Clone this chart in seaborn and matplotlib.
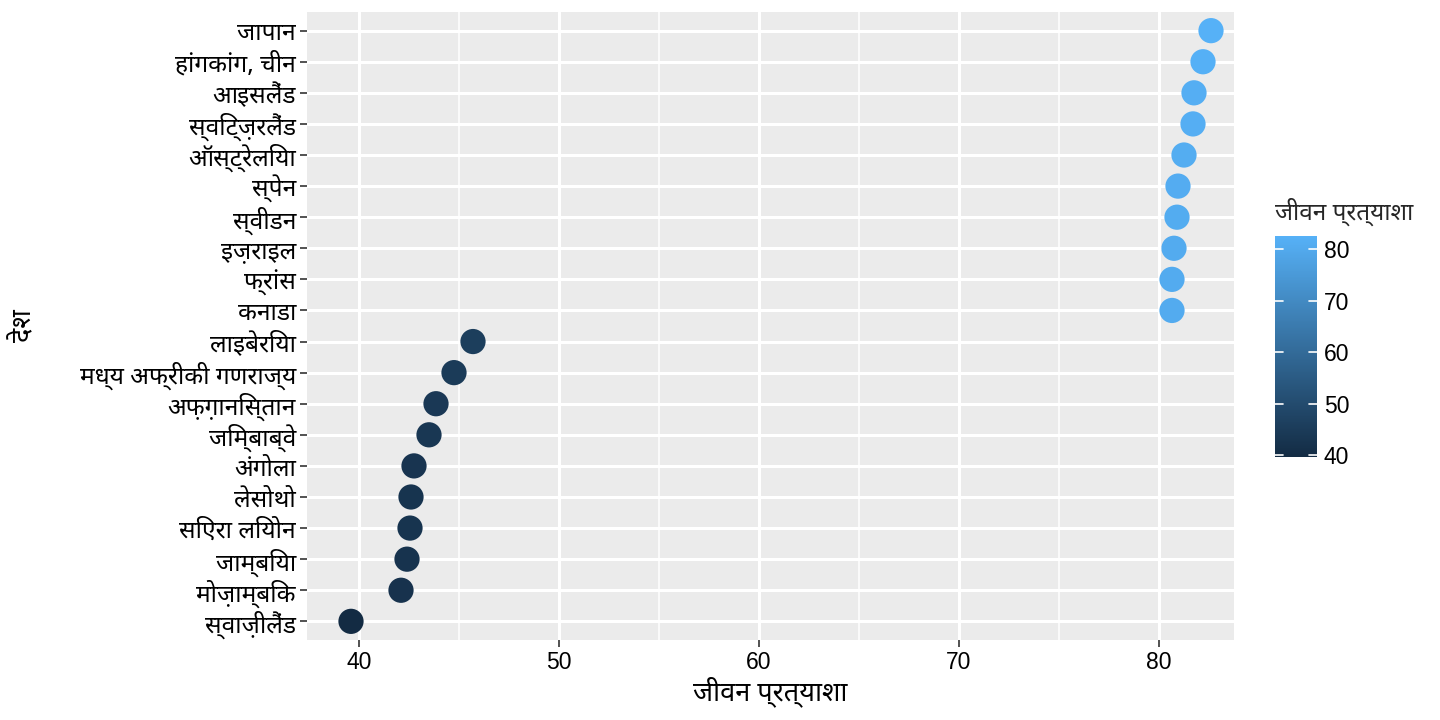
import numpy as np
import pandas as pd
import matplotlib
matplotlib.use("Agg")
import matplotlib.pyplot as plt
import seaborn as sns
from matplotlib import font_manager
from matplotlib.colors import LinearSegmentedColormap, Normalize
from matplotlib.cm import ScalarMappable

countries = ["जापान", "हांगकांग, चीन", "आइसलैंड", "स्विट्ज़रलैंड", "ऑस्ट्रेलिया",
             "स्पेन", "स्वीडन", "इज़राइल", "फ्रांस", "कनाडा",
             "लाइबेरिया", "मध्य अफ्रीकी गणराज्य", "अफ़ग़ानिस्तान", "जिम्बाब्वे", "अंगोला",
             "लेसोथो", "सिएरा लियोन", "जाम्बिया", "मोज़ाम्बिक", "स्वाज़ीलैंड"]
life_exp = [82.6, 82.2, 81.75, 81.7, 81.25, 80.95, 80.9, 80.75, 80.65, 80.65,
            45.7, 44.75, 43.85, 43.5, 42.75, 42.6, 42.55, 42.4, 42.1, 39.6]
x_ticks = [40, 50, 60, 70, 80]
x_minor = [45, 55, 65, 75]
cbar_ticks = [40, 50, 60, 70, 80]
x_label = "जीवन प्रत्याशा"
y_label = "देश"
legend_title = "जीवन प्रत्याशा"

installed = {f.name for f in font_manager.fontManager.ttflist}
deva = None
for name in ["Noto Sans Devanagari", "Mukta", "Hind", "Ek Mukta", "Poppins",
             "FreeSans", "Annapurna SIL", "Unifont"]:
    if name in installed:
        deva = name
        break

sns.set_theme(style="darkgrid")
num_font = ["Liberation Sans", "DejaVu Sans"]
text_font = ([deva] if deva else []) + ["Liberation Sans", "DejaVu Sans"]
plt.rcParams["font.family"] = text_font

df = pd.DataFrame({"country": countries, "life": life_exp})

fig = plt.figure(figsize=(14.4, 7.2), dpi=100)
ax = fig.add_axes([307/1440, 1-640/720, (1234-307)/1440, (640-12)/720])
ax.set_facecolor("#EBEBEB")

cmap = LinearSegmentedColormap.from_list("gg", ["#132B43", "#56B1F7"])
vmin, vmax = min(life_exp), max(life_exp)
sns.scatterplot(data=df, x="life", y="country", hue="life", palette=cmap,
                hue_norm=(vmin, vmax), s=330, linewidth=0, alpha=1, legend=False, ax=ax)

n = len(countries)
ax.set_ylim(n - 1 + 0.6, -0.6)
ax.set_xlim(37.4, 83.75)
ax.set_xticks(x_ticks)
ax.set_xticks(x_minor, minor=True)
ax.grid(True, which="major", color="white", linewidth=2.2)
ax.grid(True, which="minor", axis="x", color="white", linewidth=1.1)
ax.set_axisbelow(True)
for s in ax.spines.values():
    s.set_visible(False)
ax.tick_params(axis="both", which="major", length=5, width=1.2, color="#333333",
               labelsize=16.5, labelcolor="black", pad=3, bottom=True, left=True)
ax.tick_params(axis="x", which="minor", length=0)
for lab in ax.get_xticklabels():
    lab.set_family(num_font)
for lab in ax.get_yticklabels():
    lab.set_fontsize(17.7)

ax.set_xlabel(x_label, fontsize=19.5, color="black", va="center")
ax.set_ylabel(y_label, fontsize=19.5, color="black", va="center")
ax.xaxis.set_label_coords((307 + 1234) / 2 / 1440, 1 - 692/720, transform=fig.transFigure)
ax.yaxis.set_label_coords(24/1440, 1 - 326/720, transform=fig.transFigure)

cax = fig.add_axes([1275/1440, 1-457/720, 42/1440, 221/720])
sm = ScalarMappable(norm=Normalize(vmin, vmax), cmap=cmap)
cb = fig.colorbar(sm, cax=cax, ticks=cbar_ticks)
cb.outline.set_visible(False)
cax.tick_params(length=0, labelsize=16.5, labelcolor="black", pad=5)
for lab in cax.get_yticklabels():
    lab.set_family(num_font)
for t in cbar_ticks:
    cax.plot([0, 0.2], [t, t], color="white", lw=1.2)
    cax.plot([0.8, 1.0], [t, t], color="white", lw=1.2)
cax.set_xlim(0, 1)
cax.set_ylim(vmin, vmax)
fig.text(1275/1440, 1-212/720, legend_title, fontsize=17.5, ha="left", va="center")

fig.savefig("out.png", dpi=100, facecolor="white")
